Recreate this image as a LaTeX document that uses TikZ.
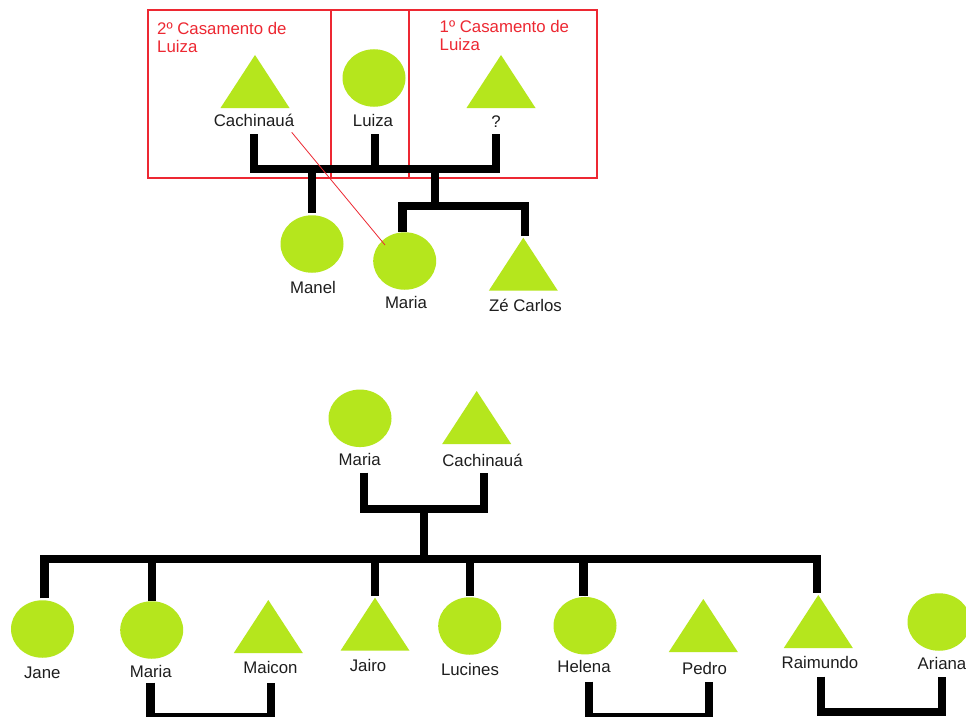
\documentclass[tikz,border=0pt]{standalone}
\usepackage{fontspec}
\setmainfont{Liberation Sans}
\usetikzlibrary{shapes.geometric}
\definecolor{lime}{RGB}{181,230,29}
\definecolor{paintred}{RGB}{237,40,50}
\definecolor{ink}{RGB}{30,30,30}
\tikzset{
  fem/.style={ellipse, fill=lime, minimum width=63pt, minimum height=57.5pt, inner sep=0pt, outer sep=0pt},
  masc/.style={isosceles triangle, isosceles triangle stretches, shape border rotate=90,
    fill=lime, minimum width=69pt, minimum height=53pt, inner sep=0pt, outer sep=0pt, anchor=apex},
  lbl/.style={font=\fontsize{16.8}{18}\selectfont, anchor=base, inner sep=0pt, text=ink},
  note/.style={font=\fontsize{16.8}{18}\selectfont, anchor=north west, inner sep=0pt, text=paintred, align=left},
  kin/.style={line width=8.3pt, line join=miter, draw=black},
  redline/.style={draw=paintred, line width=1.1pt},
  thinred/.style={draw=paintred, line width=0.8pt},
}
\begin{document}
\begin{tikzpicture}[x=1pt,y=-1pt]
\useasboundingbox[fill=white] (0,0) rectangle (966,717);

% ---------- top: Luiza's marriages ----------
\draw[redline] (148,10) rectangle (597,178);
\draw[redline] (331,10) -- (331,178);
\draw[redline] (409,10) -- (409,178);
\node[note] (n2) at (157,22.5) {2º Casamento de\\Luiza};
\node[note] (n1) at (439.5,20.5) {1º Casamento de\\Luiza};

\node[masc] (cach1) at (255,55) {};
\node[fem]  (luiza) at (374,78) {};
\node[masc] (q) at (501,55) {};
\node[lbl] (cach1l) at (254,126) {Cachinauá};
\node[lbl] (luizal) at (373,126.5) {Luiza};
\node[lbl] (ql) at (496,127) {?};

\node[fem]  (manel) at (312,244) {};
\node[fem]  (maria1) at (404.7,261) {};
\node[masc] (ze) at (523.3,237.7) {};
\node[lbl] (manell) at (313,293.3) {Manel};
\node[lbl] (maria1l) at (406,308.3) {Maria};
\node[lbl] (zel) at (525.5,311.7) {Zé Carlos};

\coordinate (sc1) at (254,134);
\coordinate (sl) at (375,134);
\coordinate (sq) at (496,134);
\coordinate (jt) at (254,169);
\coordinate (jq) at (496,169);
\coordinate (jl) at (375,169);
\coordinate (jm) at (312,169);
\coordinate (em) at (312,213);
\coordinate (jz) at (435,169);
\coordinate (jz2) at (435,205.8);
\coordinate (ma1) at (402.5,205.8);
\coordinate (ema1) at (402.5,231.7);
\coordinate (ze1) at (525,205.8);
\coordinate (eze) at (525,235.7);

\draw[kin] (sc1) -- (jt) -- (jq) -- (sq);
\draw[kin] (sl) -- (jl);
\draw[kin] (jm) -- (em);
\draw[kin] (jz) -- (jz2);
\draw[kin] (ema1) -- (ma1) -- (ze1) -- (eze);

\coordinate (r1) at (291.7,132.3);
\coordinate (r2) at (385,245);
\draw[thinred] (r1) -- (r2);

% ---------- bottom: Maria and Cachinauá ----------
\node[fem]  (maria2) at (360,418.3) {};
\node[masc] (cach2) at (476.7,391) {};
\node[lbl] (maria2l) at (359.7,465) {Maria};
\node[lbl] (cach2l) at (482.5,466) {Cachinauá};

\coordinate (sm2) at (364,472.7);
\coordinate (jm2) at (364,509);
\coordinate (jc2) at (484,509);
\coordinate (sc2) at (484,472.7);
\coordinate (d1) at (424,509);
\coordinate (d2) at (424,559);
\draw[kin] (sm2) -- (jm2) -- (jc2) -- (sc2);
\draw[kin] (d1) -- (d2);

\node[fem]  (jane) at (42.5,629) {};
\node[fem]  (maria3) at (151.7,630) {};
\node[masc] (maicon) at (268.3,600) {};
\node[masc] (jairo) at (375,597.7) {};
\node[fem]  (lucines) at (469.7,626) {};
\node[fem]  (helena) at (585,625.7) {};
\node[masc] (pedro) at (703.3,599) {};
\node[masc] (raimundo) at (818.3,595) {};
\node[fem]  (ariana) at (939,622) {};

\node[lbl] (janel) at (42.3,678.3) {Jane};
\node[lbl] (maria3l) at (150.8,677.3) {Maria};
\node[lbl] (maiconl) at (270.5,673.3) {Maicon};
\node[lbl] (jairol) at (368,671) {Jairo};
\node[lbl] (lucinesl) at (470,675.7) {Lucines};
\node[lbl] (helenal) at (584,672.3) {Helena};
\node[lbl] (pedrol) at (704.5,674) {Pedro};
\node[lbl] (raimundol) at (820,668.3) {Raimundo};
\node[lbl] (arianal) at (942,669.3) {Ariana};

\coordinate (ejane) at (44.5,598.3);
\coordinate (hjane) at (44.5,559);
\coordinate (hrai) at (817,559);
\coordinate (erai) at (817,593.3);
\draw[kin] (ejane) -- (hjane) -- (hrai) -- (erai);
\coordinate (hm3) at (151.8,559);  \coordinate (em3) at (151.8,600.7);
\coordinate (hja) at (375,559);    \coordinate (eja) at (375,596);
\coordinate (hlu) at (469.8,559);  \coordinate (elu) at (469.8,596);
\coordinate (hhe) at (583.5,559);  \coordinate (ehe) at (583.5,596);
\draw[kin] (hm3) -- (em3);
\draw[kin] (hja) -- (eja);
\draw[kin] (hlu) -- (elu);
\draw[kin] (hhe) -- (ehe);

% marriages of the children
\coordinate (a1) at (150.5,682.7); \coordinate (a2) at (150.5,717);
\coordinate (a3) at (270.8,717);   \coordinate (a4) at (270.8,682.7);
\draw[kin] (a1) -- (a2) -- (a3) -- (a4);
\coordinate (b1) at (589,681.7); \coordinate (b2) at (589,717);
\coordinate (b3) at (709,717);   \coordinate (b4) at (709,681.7);
\draw[kin] (b1) -- (b2) -- (b3) -- (b4);
\coordinate (c1) at (821,676.5); \coordinate (c2) at (821,711.8);
\coordinate (c3) at (942,711.8); \coordinate (c4) at (942,676.5);
\draw[kin] (c1) -- (c2) -- (c3) -- (c4);
\end{tikzpicture}
\end{document}
